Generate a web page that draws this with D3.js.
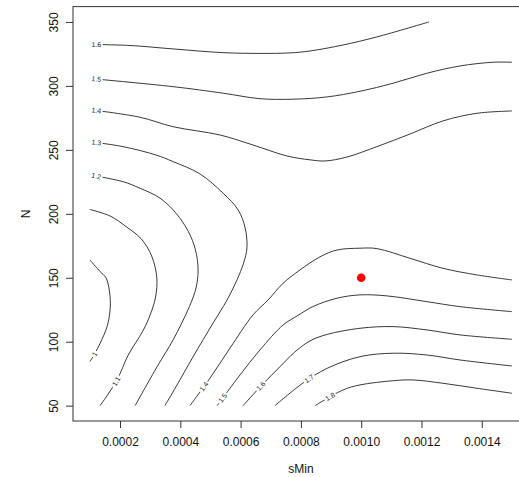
<!DOCTYPE html>
<html>
<head>
<meta charset="utf-8">
<script src="https://cdn.jsdelivr.net/npm/d3@7"></script>
<style>
body { margin: 0; background: #fff; }
text { font-family: "Liberation Sans", Arial, Helvetica, sans-serif; }
</style>
</head>
<body>
<svg id="chart" width="519" height="477"></svg>
<script>
// contour lines, points are [sMin, N]
const c10  = [[1.00e-4,163.9],[1.34e-4,154.8],[1.54e-4,149.8],[1.67e-4,135.2],[1.67e-4,124.8],[1.57e-4,111.8],[1.34e-4,98.8],[1.17e-4,91.0],[1.00e-4,84.4]];
const c11  = [[1.00e-4,203.4],[1.67e-4,198.3],[2.20e-4,190.0],[2.70e-4,180.5],[3.05e-4,167.0],[3.22e-4,150.0],[3.18e-4,135.0],[3.00e-4,121.0],[2.76e-4,108.5],[2.27e-4,89.5],[1.90e-4,70.1],[1.34e-4,50]];
const c12  = [[1.00e-4,230.4],[2.10e-4,225.1],[2.66e-4,220.0],[3.33e-4,212.2],[3.86e-4,200.4],[4.27e-4,186.0],[4.50e-4,172.0],[4.59e-4,156.1],[4.52e-4,142.0],[4.30e-4,127.4],[3.76e-4,101.4],[3.23e-4,80.5],[2.50e-4,50]];
const c13  = [[1.00e-4,256.4],[2.10e-4,252.5],[3.19e-4,246.0],[3.76e-4,240.8],[4.65e-4,231.2],[5.42e-4,216.1],[5.92e-4,203.0],[6.15e-4,189.0],[6.21e-4,173.3],[6.10e-4,161.6],[5.88e-4,148.3],[5.55e-4,132.6],[5.09e-4,114.7],[4.42e-4,88.1],[3.86e-4,64.9],[3.49e-4,50]];
const c14a = [[1.00e-4,281.4],[2.66e-4,275.5],[3.76e-4,268.1],[5.32e-4,261.6],[6.41e-4,253.8],[7.54e-4,245.2],[8.30e-4,242.2],[8.80e-4,241.3],[9.53e-4,244.4],[10.52e-4,252.5],[11.62e-4,262.4],[12.71e-4,272.6],[13.84e-4,278.6],[15.0e-4,280.4]];
const c14b = [[4.32e-4,50],[4.99e-4,71.7],[5.65e-4,95.1],[6.41e-4,120.9],[6.91e-4,132.6],[7.41e-4,145.7],[7.97e-4,156.1],[8.63e-4,166.3],[9.20e-4,171.7],[9.96e-4,173.1],[10.52e-4,172.8],[11.62e-4,165.2],[12.71e-4,157.4],[13.84e-4,152.2],[15.0e-4,148.3]];
const c15a = [[1.00e-4,305.8],[3.76e-4,299.4],[5.42e-4,294.3],[6.64e-4,290.0],[7.74e-4,289.6],[8.87e-4,291.4],[9.96e-4,295.8],[11.06e-4,302.1],[12.18e-4,309.9],[13.28e-4,315.6],[14.37e-4,318.5],[15.0e-4,318.5]];
const c15b = [[5.22e-4,50],[5.98e-4,74.0],[6.64e-4,93.5],[7.41e-4,113.1],[7.90e-4,120.5],[8.40e-4,127.5],[9.20e-4,134.0],[9.96e-4,136.6],[10.86e-4,135.8],[12.18e-4,131.3],[13.28e-4,127.4],[15.0e-4,123.5]];
const c16a = [[1.00e-4,332.4],[2.33e-4,331.6],[3.76e-4,328.9],[5.42e-4,326.0],[6.64e-4,325.4],[7.64e-4,325.8],[8.30e-4,327.3],[9.40e-4,332.0],[10.52e-4,338.3],[12.25e-4,350]];
const c16b = [[6.08e-4,50],[6.71e-4,66.2],[7.30e-4,80.3],[7.80e-4,92.0],[8.30e-4,100.6],[8.87e-4,105.7],[9.96e-4,110.5],[11.06e-4,111.8],[12.18e-4,109.2],[13.28e-4,105.3],[15.0e-4,101.9]];
const c17  = [[7.14e-4,50],[8.07e-4,67.7],[8.87e-4,79.2],[9.96e-4,88.3],[11.06e-4,91.0],[12.18e-4,89.6],[13.28e-4,85.7],[15.0e-4,81.0]];
const c18  = [[8.47e-4,50],[9.40e-4,62.3],[9.96e-4,66.2],[11.06e-4,69.5],[11.72e-4,70.1],[12.71e-4,67.5],[13.84e-4,63.6],[15.0e-4,59.7]];

const contourLines = [c10, c11, c12, c13, c14a, c14b, c15a, c15b, c16a, c16b, c17, c18];

// contour labels: [text, line index, sMin, N]
const contourLabels = [
    ["1.6", 8, 1.22e-4, 332.3],
    ["1.5", 6, 1.22e-4, 305.7],
    ["1.4", 4, 1.22e-4, 281.1],
    ["1.3", 3, 1.22e-4, 256.2],
    ["1.2", 2, 1.22e-4, 230.2],
    ["1",   0, 1.10e-4, 91.2],
    ["1.1", 1, 1.90e-4, 68.5],
    ["1.4", 5, 4.75e-4, 65.4],
    ["1.5", 7, 5.35e-4, 56.8],
    ["1.6", 9, 6.64e-4, 66.2],
    ["1.7", 10, 8.23e-4, 72.4],
    ["1.8", 11, 8.96e-4, 57.6]
];

const xTicks = [0.0002, 0.0004, 0.0006, 0.0008, 0.0010, 0.0012, 0.0014];
const yTicks = [50, 100, 150, 200, 250, 300, 350];
const bestPoint = [0.0010, 150];

const svg = d3.select("#chart");

// R style limits: data range plus 4 percent each side
const x = d3.scaleLinear().domain([0.000044, 0.001556]).range([73, 528.8]);
const y = d3.scaleLinear().domain([38, 362]).range([421, 6.6]);

const line = d3.line()
    .x(d => x(d[0]))
    .y(d => y(d[1]))
    .curve(d3.curveCatmullRom.alpha(0.5));

const linesG = svg.append("g");
const paths = contourLines.map(pts =>
    linesG.append("path")
        .attr("d", line(pts))
        .attr("fill", "none")
        .attr("stroke", "#222")
        .attr("stroke-width", 0.9)
        .node()
);

// labels sit on the line, turned along it, with the line cut behind them
const labelsG = svg.append("g");
contourLabels.forEach(([txt, idx, lx, ly]) => {
    const node = paths[idx];
    const total = node.getTotalLength();
    const px = x(lx), py = y(ly);
    let best = 0, bestD = Infinity;
    for (let s = 0; s <= total; s += 0.5) {
        const p = node.getPointAtLength(s);
        const d = (p.x - px) ** 2 + (p.y - py) ** 2;
        if (d < bestD) { bestD = d; best = s; }
    }
    const p = node.getPointAtLength(best);
    const a = node.getPointAtLength(Math.max(0, best - 3));
    const b = node.getPointAtLength(Math.min(total, best + 3));
    let ang = Math.atan2(b.y - a.y, b.x - a.x) * 180 / Math.PI;
    if (ang > 90) ang -= 180;
    if (ang < -90) ang += 180;
    const g = labelsG.append("g").attr("transform", `translate(${p.x},${p.y}) rotate(${ang})`);
    const bg = g.append("rect").attr("fill", "#fff");
    const t = g.append("text")
        .attr("text-anchor", "middle")
        .attr("dy", "0.35em")
        .attr("font-size", "7px")
        .attr("fill", "#222")
        .text(txt);
    const w = t.node().getComputedTextLength();
    bg.attr("x", -w / 2 - 1.5).attr("y", -2.5).attr("width", w + 3).attr("height", 5);
});

// best point
svg.append("circle")
    .attr("cx", x(bestPoint[0]))
    .attr("cy", y(bestPoint[1]))
    .attr("r", 4.3)
    .attr("fill", "#ff0000");

// axes
const xAxis = svg.append("g")
    .attr("transform", "translate(0,421)")
    .call(d3.axisBottom(x).tickValues(xTicks).tickSize(7).tickPadding(9.5).tickFormat(d3.format(".4f")));
xAxis.select(".domain").remove();
xAxis.selectAll("line").attr("stroke", "#333");
xAxis.selectAll("text").attr("font-size", "12px").attr("fill", "#111")
    .style("font-family", '"Liberation Sans", Arial, sans-serif');

const yAxis = svg.append("g")
    .attr("transform", "translate(73,0)")
    .call(d3.axisLeft(y).tickValues(yTicks).tickSize(7));
yAxis.select(".domain").remove();
yAxis.selectAll("line").attr("stroke", "#333");
yAxis.selectAll("text")
    .attr("x", null).attr("dy", null)
    .attr("text-anchor", "middle")
    .attr("transform", "translate(-14.7,0) rotate(-90)")
    .attr("font-size", "12px").attr("fill", "#111")
    .style("font-family", '"Liberation Sans", Arial, sans-serif');

// plot box
svg.append("rect")
    .attr("x", 73).attr("y", 6.6)
    .attr("width", 455.8).attr("height", 414.4)
    .attr("fill", "none")
    .attr("stroke", "#333")
    .attr("stroke-width", 1);

// axis titles
svg.append("text")
    .attr("x", 300.9).attr("y", 473)
    .attr("text-anchor", "middle")
    .attr("font-size", "12px").attr("fill", "#111")
    .text("sMin");

svg.append("text")
    .attr("transform", "translate(30,213.8) rotate(-90)")
    .attr("text-anchor", "middle")
    .attr("font-size", "12px").attr("fill", "#111")
    .text("N");
</script>
</body>
</html>
